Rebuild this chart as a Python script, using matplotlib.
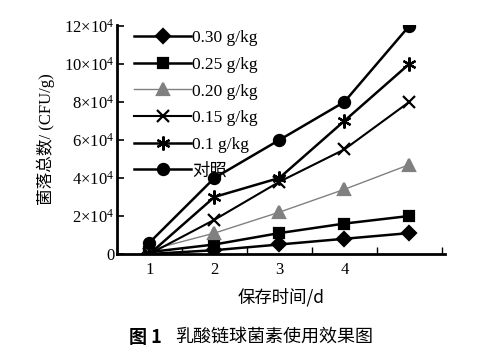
import matplotlib
matplotlib.use("Agg")
import matplotlib.pyplot as plt

days = [1, 2, 3, 4, 5]
series_labels = ["0.30 g/kg", "0.25 g/kg", "0.20 g/kg", "0.15 g/kg", "0.1 g/kg", "对照"]
v030 = [0.0, 0.2, 0.5, 0.8, 1.1]
v025 = [0.1, 0.5, 1.1, 1.6, 2.0]
v020 = [0.2, 1.1, 2.2, 3.4, 4.7]
v015 = [0.0, 1.8, 3.8, 5.5, 8.0]
v010 = [0.0, 3.0, 4.0, 7.0, 10.0]
vctrl = [0.6, 4.0, 6.0, 8.0, 12.0]
yticks = [0, 2, 4, 6, 8, 10, 12]
ytick_labels = ["0", "2×10$^4$", "4×10$^4$", "6×10$^4$", "8×10$^4$", "10×10$^4$", "12×10$^4$"]
xtick_labels = ["1", "2", "3", "4", ""]

plt.rcParams['mathtext.fontset'] = 'custom'
plt.rcParams['mathtext.rm'] = 'Liberation Serif'
plt.rcParams['mathtext.it'] = 'Liberation Serif'
plt.rcParams['font.family'] = ['Liberation Serif', 'Noto Sans CJK SC']

fig = plt.figure(figsize=(5.0, 3.59), dpi=100)
ax = fig.add_axes([0.234, 0.2925, 0.656, 0.638])

series = [v030, v025, v020, v015, v010, vctrl]
markers = ['D', 's', '^', 'x', (6, 2, 0), 'o']
colors = ['black', 'black', '#808080', 'black', 'black', 'black']
lws = [1.8, 1.8, 1.0, 1.5, 1.8, 1.8]
msizes = [7, 7, 8, 9, 10, 8]
for vals, lab, m, c, lw, ms in zip(series, series_labels, markers, colors, lws, msizes):
    ax.plot(days, vals, marker=m, color=c, lw=lw, ms=ms, mew=1.6, label=lab)

ax.set_xlim(0.5, 5.55)
ax.set_ylim(0, 12.05)
ax.set_xticks(days)
ax.set_xticklabels(xtick_labels, fontsize=12)
ax.set_xticks([1.5, 2.5, 3.5, 4.5, 5.5], minor=True)
ax.tick_params(axis='x', which='major', length=0, pad=6)
ax.tick_params(axis='x', which='minor', direction='in', length=5, width=1)
ax.set_yticks(yticks)
ax.set_yticklabels(ytick_labels, fontsize=12)
ax.tick_params(axis='y', direction='in', length=5, width=1.2, pad=2)
for s in ['top', 'right']:
    ax.spines[s].set_visible(False)
for s in ['left', 'bottom']:
    ax.spines[s].set_linewidth(2)

ax.set_xlabel("保存时间/d", fontsize=12.5, family=['Noto Sans CJK SC'], labelpad=7)
ax.set_ylabel("菌落总数/ (CFU/g)", fontsize=12, family=['Liberation Serif', 'Noto Sans CJK SC'], labelpad=6)

leg = ax.legend(loc='upper left', bbox_to_anchor=(0.015, 1.03), frameon=False,
                handlelength=3.3, handletextpad=0.05, labelspacing=0.6,
                prop={'family': ['Liberation Serif', 'Noto Sans CJK SC'], 'size': 12.5},
                borderaxespad=0.3)

fig.text(0.258, 0.061, "图 1", fontsize=13, weight='bold', family=['Noto Sans CJK SC'], va='center')
fig.text(0.350, 0.061, "乳酸链球菌素使用效果图", fontsize=13, family=['Noto Sans CJK SC'], va='center')

fig.savefig("out.png", dpi=100)
